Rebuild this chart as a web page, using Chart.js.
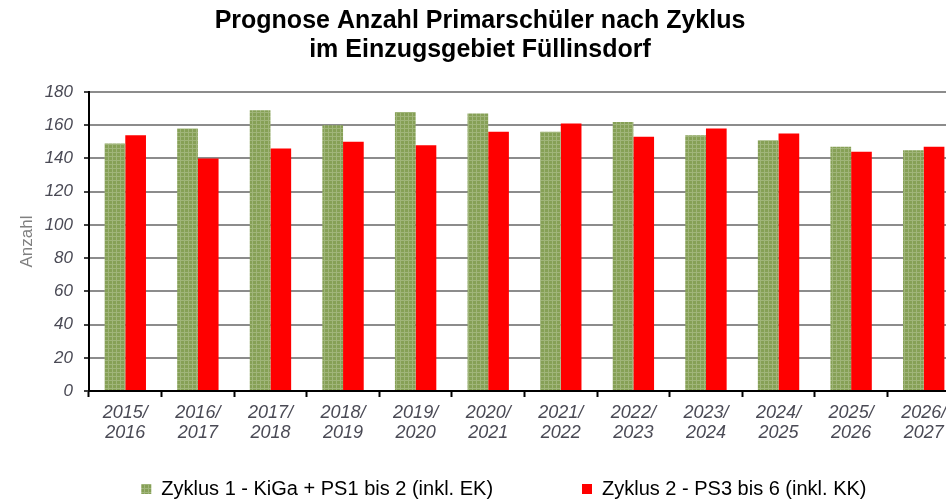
<!DOCTYPE html>
<html>
<head>
<meta charset="utf-8">
<script src="https://cdn.jsdelivr.net/npm/chart.js@4"></script>
<style>
  html, body { margin: 0; padding: 0; background: #fff; overflow: hidden; }
  #wrap { width: 975px; height: 502px; }
</style>
</head>
<body>
<div id="wrap"><canvas id="chart"></canvas></div>
<script>
var years = [
	['2015/', '2016'], ['2016/', '2017'], ['2017/', '2018'], ['2018/', '2019'],
	['2019/', '2020'], ['2020/', '2021'], ['2021/', '2022'], ['2022/', '2023'],
	['2023/', '2024'], ['2024/', '2025'], ['2025/', '2026'], ['2026/', '2027']
];
var zyklus1 = [149, 158, 169, 160, 168, 167, 156, 162, 154, 151, 147, 145];
var zyklus2 = [154, 140, 146, 150, 148, 156, 161, 153, 158, 155, 144, 147];
var yTicks = [0, 20, 40, 60, 80, 100, 120, 140, 160, 180];

var label1 = 'Zyklus 1 - KiGa + PS1 bis 2 (inkl. EK)';
var label2 = 'Zyklus 2 - PS3 bis 6 (inkl. KK)';

// small checkered tile for the green bars
function greenPattern() {
	var c = document.createElement('canvas');
	c.width = 4;
	c.height = 4;
	var g = c.getContext('2d');
	g.fillStyle = '#86a056';
	g.fillRect(0, 0, 4, 4);
	g.fillStyle = '#a0b57a';
	g.fillRect(0, 0, 4, 1);
	g.fillRect(0, 0, 1, 4);
	return g.createPattern(c, 'repeat');
}

var font = "'Liberation Sans', Arial, sans-serif";
var ctx = document.getElementById('chart').getContext('2d');
var green = greenPattern();

var chart = new Chart(ctx, {
	type: 'bar',
	data: {
		labels: years,
		datasets: [
			{ label: label1, data: zyklus1, backgroundColor: green, borderWidth: 0 },
			{ label: label2, data: zyklus2, backgroundColor: '#ff0000', borderWidth: 0 }
		]
	},
	options: {
		responsive: true,
		maintainAspectRatio: false,
		animation: false,
		layout: { padding: { left: 0, right: 15, top: 0, bottom: -7 } },
		datasets: { bar: { categoryPercentage: 0.57, barPercentage: 1 } },
		plugins: {
			tooltip: { enabled: false },
			title: {
				display: true,
				text: ['Prognose Anzahl Primarschüler nach Zyklus', 'im Einzugsgebiet Füllinsdorf'],
				color: '#000',
				font: { family: font, size: 25, weight: 'bold', lineHeight: 1.16 },
				padding: { top: 7, bottom: 27 }
			},
			legend: {
				position: 'bottom',
				labels: {
					color: '#000',
					font: { family: font, size: 20 },
					boxWidth: 10,
					boxHeight: 10,
					padding: 0,
					generateLabels: function(chart) {
						var items = Chart.defaults.plugins.legend.labels.generateLabels(chart);
						items.forEach(function(it) { it.lineWidth = 0; });
						items[0].text = items[0].text + '                ';
						// empty spacer so the pair sits where the original has it
						items.unshift({ text: '     ', fillStyle: 'rgba(0,0,0,0)', strokeStyle: 'rgba(0,0,0,0)', lineWidth: 0, hidden: false, datasetIndex: -1 });
						return items;
					}
				}
			}
		},
		scales: {
			x: {
				afterFit: function(scale) { scale.height = 88; },
				border: { color: '#000', width: 2 },
				grid: { drawOnChartArea: false, drawTicks: true, tickLength: 6, tickColor: '#000', tickWidth: 2 },
				ticks: {
					color: '#4a4a55',
					padding: 6,
					maxRotation: 0,
					autoSkip: false,
					font: { family: font, size: 18, style: 'italic', lineHeight: 1.1 }
				}
			},
			y: {
				min: 0,
				max: 180,
				afterFit: function(scale) { scale.width = 89; },
				afterBuildTicks: function(scale) {
					scale.ticks = yTicks.map(function(v) { return { value: v }; });
				},
				border: { color: '#000', width: 2 },
				grid: { color: '#8c8c8c', lineWidth: 2, tickColor: '#000', tickWidth: 1.5, tickLength: 5 },
				ticks: {
					color: '#4a4a55',
					padding: 11,
					font: { family: font, size: 17, style: 'italic' }
				},
				title: {
					display: true,
					text: 'Anzahl',
					color: '#808080',
					font: { family: font, size: 17 },
					padding: { top: 17, bottom: 0 }
				}
			}
		}
	}
});
</script>
</body>
</html>
